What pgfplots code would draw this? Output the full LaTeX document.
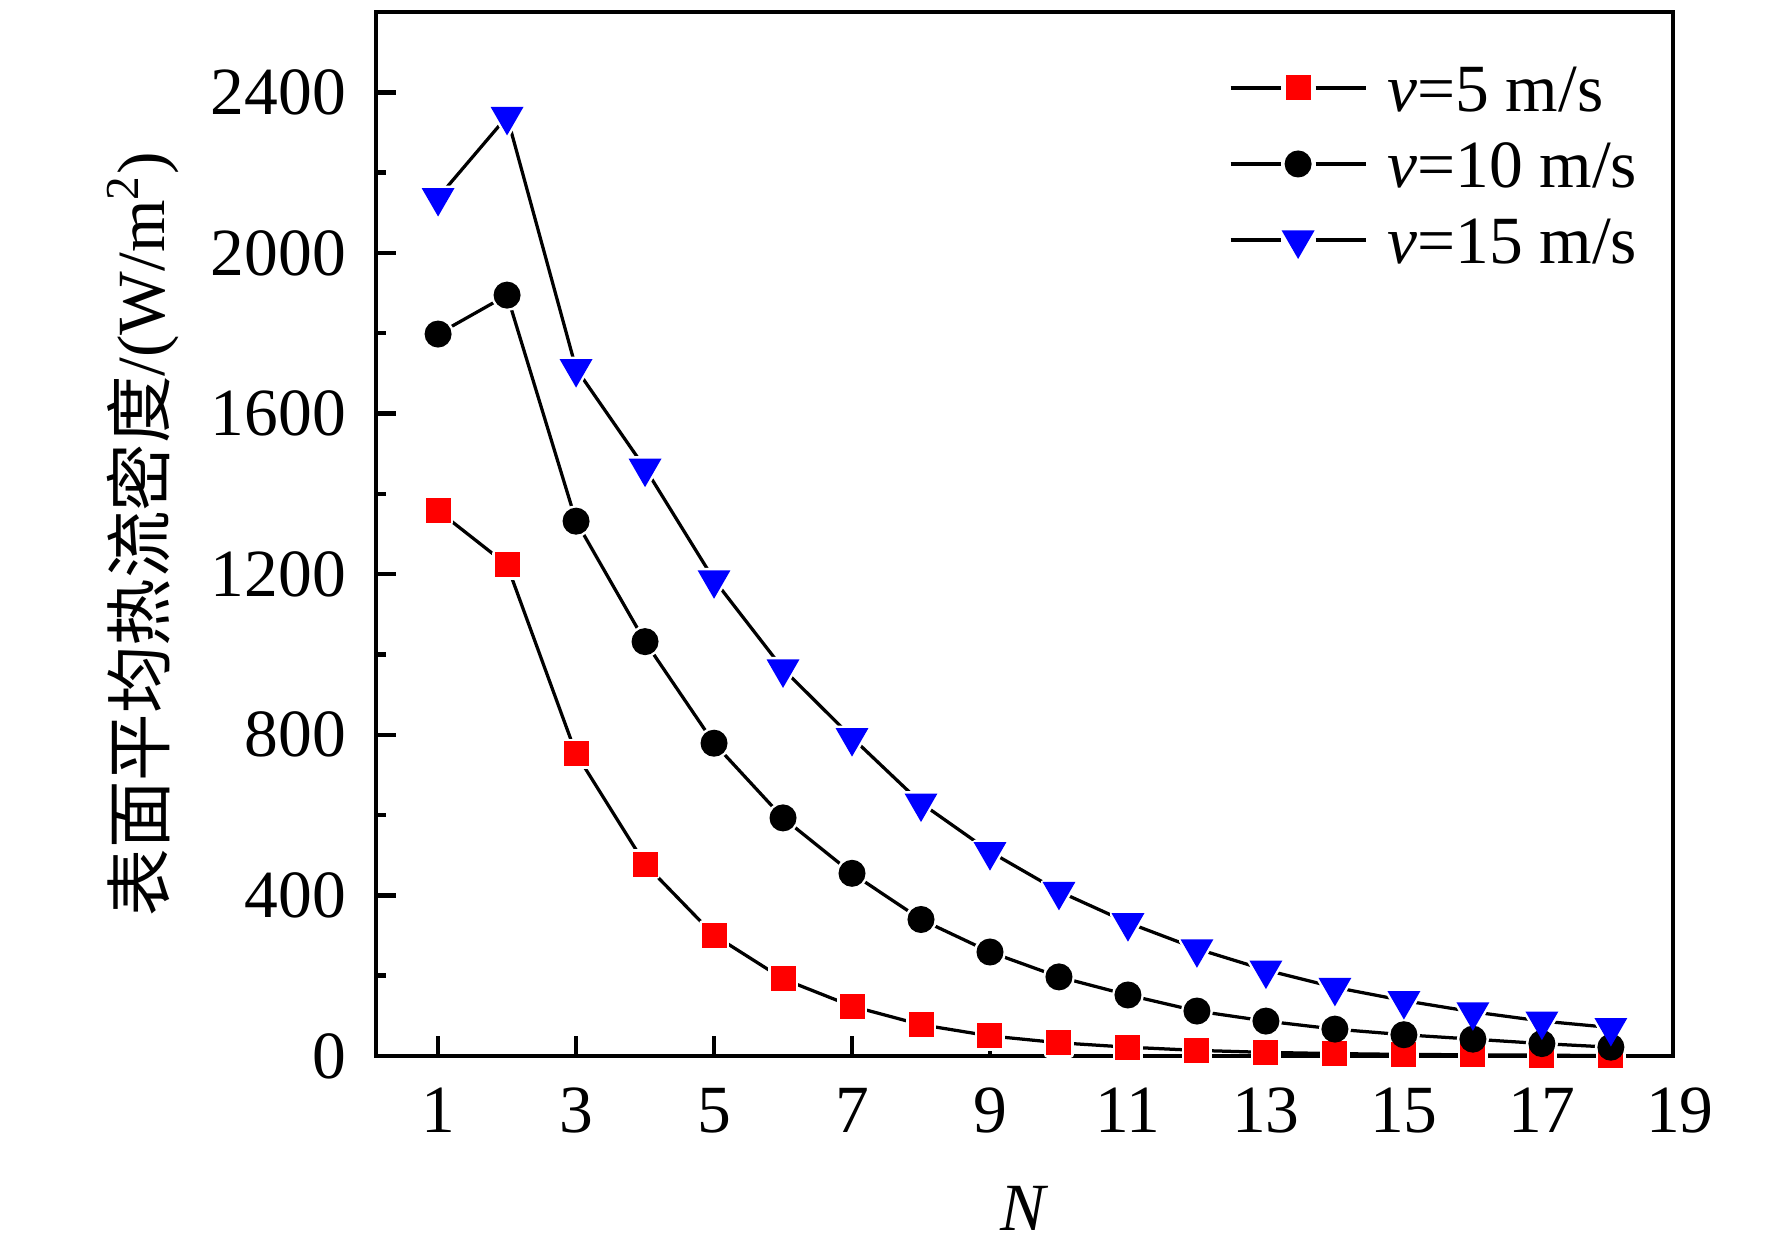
\documentclass[border=0pt]{standalone}
\usepackage{fontspec}
\setmainfont{Liberation Serif}
\newfontfamily\cjk{Noto Sans CJK SC}
\usepackage{pgfplots}
\pgfplotsset{compat=1.18}
\usepackage{pgfplotstable}

\pgfplotstableread{
N y
1 1358
2 1223
3 753
4 478
5 301
6 192
7 124
8 78
9 50
10 33
11 22
12 14
13 9
14 6
15 4
16 3
17 2
18 1
}\dataA
\pgfplotstableread{
N y
1 1798
2 1895
3 1332
4 1032
5 779
6 593
7 455
8 340
9 259
10 197
11 152
12 112
13 87
14 67
15 53
16 42
17 31
18 22
}\dataB
\pgfplotstableread{
N y
1 2138
2 2340
3 1712
4 1464
5 1186
6 964
7 793
8 630
9 509
10 410
11 332
12 267
13 214
14 171
15 138
16 110
17 87
18 71
}\dataC

\begin{document}
\begin{tikzpicture}
\begin{axis}[
  scale only axis,
  width=259.4pt, height=208.8pt,
  xmin=0.1, xmax=18.9, ymin=0, ymax=2600,
  clip mode=individual,
  xtick={1,3,...,17}, ytick={0,400,...,2400},
  minor y tick num=1,
  tick align=inside, xtick pos=bottom, ytick pos=left,
  major tick length=4pt, minor tick length=2pt,
  every tick/.append style={black, line width=0.9pt},
  every minor tick/.append style={black, line width=0.9pt},
  axis line style={line width=0.9pt},
  tick label style={font=\fontsize{13.5}{16}\selectfont},
  /pgf/number format/assume math mode=true,
  /pgf/number format/1000 sep={},
  yticklabel style={inner sep=0pt, xshift=-5.8pt},
  xticklabel style={inner sep=0pt, yshift=-6.2pt},
  xlabel={\textit{N}},
  xlabel style={at={(axis description cs:0.5,0)}, anchor=north, yshift=-25.8pt, inner sep=0pt, font=\fontsize{13.5}{16}\selectfont},
  ylabel={{\cjk 表面平均热流密度}/(W/m\textsuperscript{2})},
  ylabel style={at={(axis description cs:-0.1796,0.5)}, anchor=center, inner sep=0pt, font=\fontsize{13.5}{16}\selectfont},
  legend cell align=left,
  legend style={at={(axis description cs:0.6569,0.9646)}, anchor=north west,
    draw=none, fill=none, inner sep=0pt, row sep=0pt,
    font=\fontsize{13.5}{16}\selectfont,
    nodes={inner sep=0pt, text height=12.4pt, text depth=2.8pt},
    /tikz/every odd column/.append style={column sep=4pt}},
  legend image code/.code={
    \draw[black, line width=0.65pt, mark=none] (0pt,0pt) -- (10pt,0pt) (17pt,0pt) -- (27pt,0pt);
    \draw plot coordinates {(13.5pt,0pt)};
  },
]
% lines
\addplot[black, line width=0.65pt, mark=none, forget plot] table[x=N,y=y] {\dataA};
\addplot[black, line width=0.65pt, mark=none, forget plot] table[x=N,y=y] {\dataB};
\addplot[black, line width=0.65pt, mark=none, forget plot] table[x=N,y=y] {\dataC};
% white gaps around markers
\addplot[only marks, forget plot, mark=square*, mark size=2.3pt, mark options={draw=white, fill=white, line width=1.4pt, line join=round}] table[x=N,y=y] {\dataA};
\addplot[only marks, forget plot, mark=*, mark size=2.5pt, mark options={draw=white, fill=white, line width=1.4pt}] table[x=N,y=y] {\dataB};
\addplot[only marks, forget plot, mark=triangle*, mark size=3.4pt, mark options={rotate=180, draw=white, fill=white, line width=1.4pt, line join=round}] table[x=N,y=y] {\dataC};
% markers
\addplot[only marks, color=red, mark=square*, mark size=2.3pt, mark options={draw=none, fill=red}] table[x=N,y=y] {\dataA};
\addlegendentry{\textit{v}=5 m/s}
\addplot[only marks, color=black, mark=*, mark size=2.5pt, mark options={draw=none, fill=black}] table[x=N,y=y] {\dataB};
\addlegendentry{\textit{v}=10 m/s}
\addplot[only marks, color=blue, mark=triangle*, mark size=3.4pt, mark options={rotate=180, draw=none, fill=blue}] table[x=N,y=y] {\dataC};
\addlegendentry{\textit{v}=15 m/s}
\node[anchor=north, inner sep=0pt, yshift=-6.2pt, font=\fontsize{13.5}{16}\selectfont] at (axis cs:19,0) {19};
\end{axis}
\pgfresetboundingbox
\path (-75.2pt,-38.8pt) rectangle (279.2pt,211.2pt);
\end{tikzpicture}
\end{document}
